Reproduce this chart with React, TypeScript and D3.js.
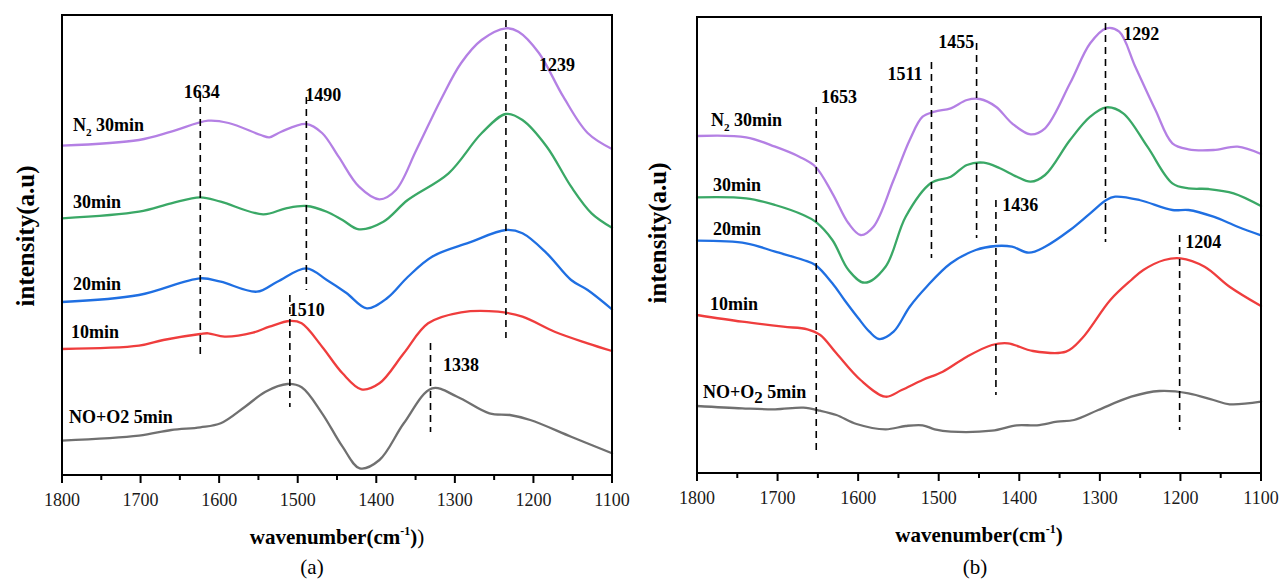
import React from 'react';
import * as d3 from 'd3';

type Pt = [number, number];

// ---------- axis data ----------
const xTicks = [1800, 1700, 1600, 1500, 1400, 1300, 1200, 1100];
const xMinorTicks = [1750, 1650, 1550, 1450, 1350, 1250, 1150];
const xDomain = [1800, 1100];
const yDomainA = [0, 460];
const yDomainB = [0, 456];

const seriesKeys = ['gray', 'red', 'blue', 'green', 'purple'];
const seriesColors: Record<string, string> = {
  gray: '#707070',
  red: '#ef3d3d',
  blue: '#1f6fe2',
  green: '#3aa866',
  purple: '#b480e4',
};

// ---------- panel (a) series: [wavenumber, intensity] ----------
const aPurple: Pt[] = [
  [1800, 329.3], [1702, 335], [1661, 343.3], [1614, 354.3], [1588, 352], [1547, 340], [1536, 337.7],
  [1521, 343.3], [1489, 351], [1469, 342], [1448, 318.3], [1422, 288.3], [1396, 275.7], [1375, 285],
  [1349, 325], [1318, 375], [1292, 412], [1266, 435], [1235, 446.7], [1219, 443.3], [1193, 422],
  [1162, 378.3], [1131, 342], [1100, 326],
];
const aGreen: Pt[] = [
  [1800, 256.7], [1702, 263.3], [1661, 271.7], [1624, 277.7], [1598, 273.3], [1544, 260.7], [1515, 266.7],
  [1489, 269], [1463, 263.3], [1443, 255], [1422, 245.7], [1391, 253.3], [1360, 275], [1308, 301.7],
  [1266, 341.7], [1235, 361], [1214, 355], [1183, 328.3], [1152, 288.3], [1126, 261.7], [1100, 247.3],
];
const aBlue: Pt[] = [
  [1800, 173], [1702, 180], [1624, 196.7], [1598, 193.3], [1552, 183.3], [1526, 193.3], [1489, 206.7],
  [1463, 195], [1438, 182], [1412, 166.7], [1386, 177], [1360, 198], [1329, 218.3], [1282, 232.3],
  [1235, 245], [1214, 241.7], [1183, 221.7], [1152, 195], [1131, 185], [1100, 165.7],
];
const aRed: Pt[] = [
  [1800, 126], [1702, 129.3], [1671, 135], [1624, 141], [1614, 141.7], [1593, 138.3], [1557, 142.3],
  [1536, 148.3], [1510, 154], [1495, 151.7], [1469, 128.3], [1443, 101.7], [1419, 85.7], [1396, 91.7],
  [1365, 121.7], [1334, 151.7], [1292, 162.7], [1245, 163.3], [1214, 158.3], [1173, 143.3], [1131, 131.7],
  [1100, 124],
];
const aGray: Pt[] = [
  [1800, 34.3], [1702, 39.3], [1661, 45], [1624, 47.7], [1598, 51.7], [1567, 68.3], [1541, 83.3],
  [1513, 91], [1495, 87.7], [1469, 61.7], [1443, 28.3], [1421, 6.7], [1396, 15], [1365, 51.7],
  [1329, 86.7], [1297, 78.3], [1256, 61.7], [1230, 60], [1204, 55], [1152, 38.3], [1100, 21.7],
];

// ---------- panel (b) series ----------
const bPurple: Pt[] = [
  [1800, 337], [1739, 335.7], [1703, 326.3], [1673, 316.3], [1653, 306.3], [1632, 279.7], [1612, 249.7],
  [1597, 238], [1581, 246.3], [1556, 293], [1536, 333], [1520, 356.3], [1505, 361.3], [1485, 364.7],
  [1465, 373], [1449, 374], [1429, 366.3], [1409, 349.7], [1386, 338.7], [1368, 344.7], [1337, 389.7],
  [1312, 429.7], [1292, 444.7], [1276, 441.3], [1256, 406.3], [1231, 363], [1210, 329.7], [1190, 323.7],
  [1159, 323], [1129, 326.3], [1100, 319],
];
const bGreen: Pt[] = [
  [1800, 275.7], [1739, 274.7], [1703, 268], [1668, 258], [1653, 251.3], [1632, 233], [1612, 203],
  [1592, 190.3], [1566, 206.3], [1541, 256.3], [1510, 289.7], [1485, 296.3], [1465, 308], [1444, 310.3],
  [1424, 304.7], [1403, 296.3], [1386, 291.3], [1368, 298], [1337, 333], [1312, 356.3], [1292, 365.7],
  [1271, 359.7], [1241, 326.3], [1210, 289.7], [1190, 284.7], [1165, 284], [1134, 279.7], [1100, 267],
];
const bBlue: Pt[] = [
  [1800, 232.3], [1739, 229.7], [1703, 221.3], [1668, 213], [1653, 208], [1632, 189.7], [1617, 173],
  [1600, 155], [1586, 141.3], [1574, 134], [1556, 141.3], [1536, 166.3], [1515, 186.3], [1485, 209.7],
  [1454, 223], [1429, 227], [1409, 226.3], [1388, 220.3], [1368, 226.3], [1337, 243], [1312, 259.7],
  [1292, 273], [1281, 276.3], [1251, 273], [1210, 263], [1190, 263], [1159, 256.3], [1129, 246.3],
  [1100, 237.7],
];
const bRed: Pt[] = [
  [1800, 158], [1744, 151.3], [1693, 146.3], [1663, 143.7], [1647, 138], [1627, 119.7], [1597, 93],
  [1566, 76.3], [1546, 83], [1520, 93], [1495, 101.3], [1465, 116.3], [1434, 128], [1414, 129.7],
  [1383, 122], [1342, 121.3], [1322, 134.7], [1287, 173], [1261, 193], [1246, 203], [1220, 213],
  [1200, 214.7], [1170, 206.3], [1139, 186.3], [1100, 167],
];
const bGray: Pt[] = [
  [1800, 67], [1744, 64.7], [1703, 63.7], [1668, 65.3], [1647, 62.3], [1627, 58], [1602, 49],
  [1566, 43.7], [1541, 47], [1520, 47.7], [1505, 43.7], [1485, 41.3], [1434, 42.3], [1403, 47.7],
  [1378, 47.7], [1353, 51.3], [1332, 53], [1302, 63], [1261, 76.3], [1226, 82], [1190, 79.7],
  [1159, 73], [1139, 68.7], [1100, 71.3],
];

// ---------- series labels: text, wavenumber, intensity ----------
const aSeriesLabels: [string, number, number][] = [
  ['N_2 30min', 1786, 344],
  ['30min', 1786, 267],
  ['20min', 1786, 185],
  ['10min', 1788.5, 137],
  ['NO+O2 5min', 1791, 52],
];
const bSeriesLabels: [string, number, number][] = [
  ['N_2 30min', 1782.6, 347],
  ['30min', 1780, 282],
  ['20min', 1780, 238],
  ['10min', 1784, 163],
  ['NO+O~2 5min', 1792.6, 75],
];

// ---------- peak markers: label, line wavenumber, top, bottom, label wavenumber, label intensity, anchor ----------
type Marker = [string, number, number, number, number, number, string];
const aMarkers: Marker[] = [
  ['1634', 1624, 380, 120, 1622, 377, 'middle'],
  ['1490', 1489, 378, 185, 1490.5, 374, 'start'],
  ['1239', 1235, 455, 137, 1193, 404, 'start'],
  ['1510', 1510, 180, 68, 1511.5, 159, 'start'],
  ['1338', 1331, 132, 43, 1315, 104, 'start'],
];
const bMarkers: Marker[] = [
  ['1653', 1652, 366, 21, 1646, 370, 'start'],
  ['1511', 1509, 411, 215, 1520, 393, 'end'],
  ['1455', 1453, 430, 235, 1456, 425, 'end'],
  ['1292', 1293, 450, 231, 1271, 433, 'start'],
  ['1436', 1429, 273, 78, 1421, 262, 'start'],
  ['1204', 1201, 238, 43, 1194, 225, 'start'],
];

const FONT = 'Liberation Serif';

function LabelText({ text, x, y, size }: { text: string; x: number; y: number; size: number }) {
  // "_2" -> small subscript, "~2" -> larger subscript
  const parts: React.ReactNode[] = [];
  let i = 0;
  let buf = '';
  let k = 0;
  let pendingDy = 0;
  const flush = () => {
    if (buf) {
      parts.push(
        <tspan key={k++} dy={pendingDy || undefined}>
          {buf}
        </tspan>
      );
      pendingDy = 0;
    }
    buf = '';
  };
  while (i < text.length) {
    const c = text[i];
    if ((c === '_' || c === '~') && i + 1 < text.length) {
      flush();
      const small = c === '_';
      const fs = small ? size * 0.62 : size * 0.95;
      const dy = 5;
      parts.push(
        <tspan key={k++} fontSize={fs} dy={dy}>
          {text[i + 1]}
        </tspan>
      );
      pendingDy = -dy;
      i += 2;
      continue;
    }
    buf += c;
    i++;
  }
  flush();
  return (
    <text x={x} y={y} fontFamily={FONT} fontWeight="bold" fontSize={size} fill="#000">
      {parts}
    </text>
  );
}

type PanelProps = {
  left: number;
  right: number;
  top: number;
  bottom: number;
  yDomain: number[];
  series: Pt[][];
  labels: [string, number, number][];
  markers: Marker[];
  extraParen: boolean;
  tag: string;
  tagX: number;
  yLabelX: number;
  yLabelY: number;
};

function Panel(p: PanelProps) {
  const x = d3.scaleLinear().domain(xDomain).range([p.left, p.right]);
  const y = d3.scaleLinear().domain(p.yDomain).range([p.bottom, p.top]);
  const line = d3
    .line<Pt>()
    .x((d) => x(d[0]))
    .y((d) => y(d[1]))
    .curve(d3.curveCatmullRom.alpha(0.5));
  const cx = (p.left + p.right) / 2;
  return (
    <g>
      {p.series.map((s, i) => (
        <path
          key={i}
          d={line(s) || ''}
          fill="none"
          stroke={seriesColors[seriesKeys[i]]}
          strokeWidth={2.3}
          strokeLinejoin="round"
          strokeLinecap="round"
        />
      ))}
      {p.markers.map((m, i) => (
        <g key={i}>
          <line
            x1={x(m[1])}
            x2={x(m[1])}
            y1={y(m[2])}
            y2={y(m[3])}
            stroke="#000"
            strokeWidth={1.6}
            strokeDasharray="7,5"
          />
          <text
            x={x(m[4])}
            y={y(m[5])}
            textAnchor={m[6] as any}
            fontFamily={FONT}
            fontWeight="bold"
            fontSize={18}
            fill="#000"
          >
            {m[0]}
          </text>
        </g>
      ))}
      {p.labels.map((l, i) => (
        <LabelText key={i} text={l[0]} x={x(l[1])} y={y(l[2])} size={18} />
      ))}
      {/* frame */}
      <rect
        x={p.left}
        y={p.top}
        width={p.right - p.left}
        height={p.bottom - p.top}
        fill="none"
        stroke="#000"
        strokeWidth={2}
      />
      {xTicks.map((t) => (
        <g key={'M' + t}>
          <line x1={x(t)} x2={x(t)} y1={p.bottom} y2={p.bottom + 8} stroke="#000" strokeWidth={2} />
          <text x={x(t)} y={p.bottom + 31} textAnchor="middle" fontFamily={FONT} fontSize={18} fill="#1a1a1a">
            {t}
          </text>
        </g>
      ))}
      {xMinorTicks.map((t) => (
        <line key={'m' + t} x1={x(t)} x2={x(t)} y1={p.bottom} y2={p.bottom + 5} stroke="#000" strokeWidth={2} />
      ))}
      <text
        x={cx}
        y={p.bottom + 69}
        textAnchor="middle"
        fontFamily={FONT}
        fontWeight="bold"
        fontSize={21}
        fill="#000"
      >
        wavenumber(cm
        <tspan fontSize={12} dy={-9}>
          -1
        </tspan>
        <tspan dy={9}>)</tspan>
        {p.extraParen ? <tspan fontWeight="normal">)</tspan> : null}
      </text>
      <text x={p.tagX} y={574} textAnchor="middle" fontFamily={FONT} fontSize={21} fill="#000">
        {p.tag}
      </text>
      <text
        transform={`translate(${p.yLabelX},${p.yLabelY}) rotate(-90)`}
        textAnchor="middle"
        dominantBaseline="central"
        fontFamily={FONT}
        fontWeight="bold"
        fontSize={25}
        fill="#000"
      >
        intensity(a.u)
      </text>
    </g>
  );
}

export default function App() {
  return (
    <svg
      width={1282}
      height={579}
      viewBox="0 0 1282 579"
      style={{ position: 'absolute', left: 0, top: 0, background: '#fff' }}
    >
      <rect x={0} y={0} width={1282} height={579} fill="#fff" />
      <Panel
        left={62}
        right={612}
        top={15}
        bottom={475}
        yDomain={yDomainA}
        series={[aGray, aRed, aBlue, aGreen, aPurple]}
        labels={aSeriesLabels}
        markers={aMarkers}
        extraParen={true}
        tag="(a)"
        tagX={312}
        yLabelX={25}
        yLabelY={236}
      />
      <Panel
        left={697}
        right={1261}
        top={17}
        bottom={473}
        yDomain={yDomainB}
        series={[bGray, bRed, bBlue, bGreen, bPurple]}
        labels={bSeriesLabels}
        markers={bMarkers}
        extraParen={false}
        tag="(b)"
        tagX={975}
        yLabelX={657}
        yLabelY={233}
      />
    </svg>
  );
}
